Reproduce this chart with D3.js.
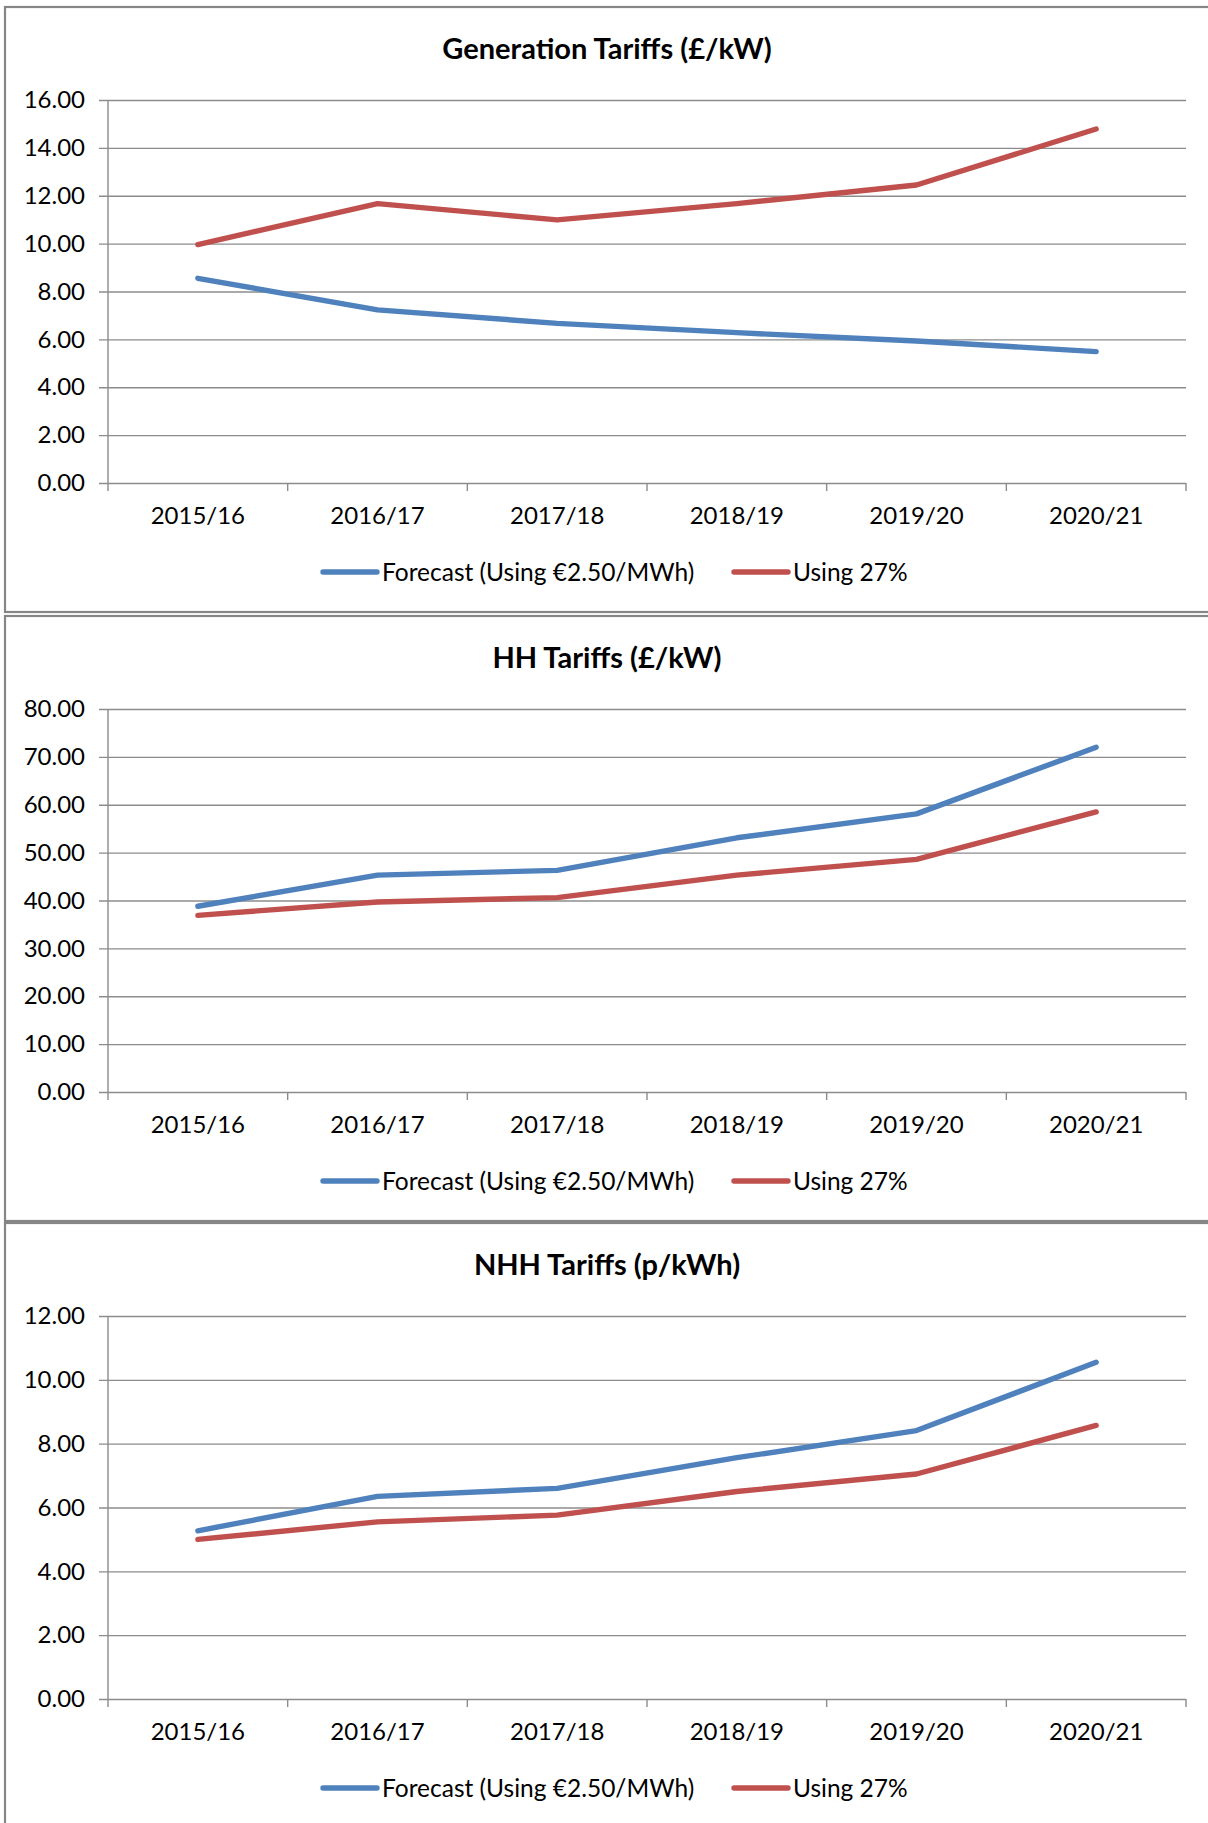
<!DOCTYPE html>
<html>
<head>
<meta charset="utf-8">
<script src="https://cdn.jsdelivr.net/npm/d3@7"></script>
<style>
  body { margin: 0; background: #fff; }
  text { font-family: Lato, "Open Sans", sans-serif; fill: #000; }
</style>
</head>
<body>
<svg id="chart"></svg>
<script>
var years = ["2015/16", "2016/17", "2017/18", "2018/19", "2019/20", "2020/21"];
var seriesNames = ["Forecast (Using \u20ac2.50/MWh)", "Using 27%"];

var genForecast = [8.55, 7.23, 6.67, 6.28, 5.93, 5.49];
var genUsing27  = [9.96, 11.67, 10.99, 11.67, 12.45, 14.79];

var hhForecast = [38.8, 45.3, 46.3, 53.1, 58.1, 72.0];
var hhUsing27  = [36.9, 39.7, 40.6, 45.3, 48.6, 58.5];

var nhhForecast = [5.27, 6.35, 6.6, 7.56, 8.41, 10.55];
var nhhUsing27  = [5.0, 5.55, 5.76, 6.5, 7.05, 8.57];

var titles = ["Generation Tariffs (\u00a3/kW)", "HH Tariffs (\u00a3/kW)", "NHH Tariffs (p/kWh)"];
var yMax = [16, 80, 12];
var yStep = [2, 10, 2];

var panels = [
  [genForecast, genUsing27],
  [hhForecast, hhUsing27],
  [nhhForecast, nhhUsing27]
];
var colors = ["#4f81bd", "#c0504d"];

var width = 1208, height = 1823;
var boxTops = [7, 616, 1223];
var boxH = 605;
var left = 108, right = 1186, plotTop = 93, plotH = 383;

var svg = d3.select("#chart").attr("width", width).attr("height", height);

panels.forEach(function(series, p) {
    var g = svg.append("g").attr("transform", "translate(0," + boxTops[p] + ")");

    // frame
    g.append("rect")
        .attr("x", 5).attr("y", 0)
        .attr("width", 1212).attr("height", boxH)
        .attr("fill", "#fff")
        .attr("stroke", "#868686").attr("stroke-width", 2.2);

    g.append("text")
        .attr("x", 607).attr("y", 52)
        .attr("text-anchor", "middle")
        .style("font-weight", "bold").style("font-size", "29px")
        .text(titles[p]);

    var x = d3.scaleBand().domain(years).range([left, right]);
    var y = d3.scaleLinear().domain([0, yMax[p]]).range([plotTop + plotH, plotTop]);
    var ticks = d3.range(0, yMax[p] + 0.001, yStep[p]);

    // gridlines + y axis
    var yAxis = d3.axisLeft(y).tickValues(ticks).tickFormat(d3.format(".2f"))
        .tickSize(-(right - left)).tickPadding(23);
    var ya = g.append("g").attr("transform", "translate(" + left + ",0)").call(yAxis);
    ya.select(".domain").remove();
    ya.selectAll(".tick line").attr("x1", -9).attr("stroke", "#8c8c8c").attr("stroke-width", 1.4);
    ya.selectAll(".tick text").style("font-size", "24px").attr("fill", "#000");

    g.append("line")
        .attr("x1", left).attr("x2", left)
        .attr("y1", plotTop).attr("y2", plotTop + plotH)
        .attr("stroke", "#8c8c8c").attr("stroke-width", 1.4);

    // x axis
    var xa = g.append("g").attr("transform", "translate(0," + (plotTop + plotH) + ")")
        .call(d3.axisBottom(x).tickSize(0).tickPadding(24));
    xa.select(".domain").remove();
    xa.selectAll(".tick text").style("font-size", "24px").attr("fill", "#000");
    g.selectAll(".xtick").data(d3.range(years.length + 1)).enter().append("line")
        .attr("x1", function(i) { return left + i * x.step(); })
        .attr("x2", function(i) { return left + i * x.step(); })
        .attr("y1", plotTop + plotH).attr("y2", plotTop + plotH + 8)
        .attr("stroke", "#8c8c8c").attr("stroke-width", 1.4);

    var line = d3.line()
        .x(function(d, i) { return x(years[i]) + x.bandwidth() / 2; })
        .y(function(d) { return y(d); });

    series.forEach(function(s, k) {
        g.append("path").datum(s)
            .attr("d", line)
            .attr("fill", "none")
            .attr("stroke", colors[k]).attr("stroke-width", 5.4)
            .attr("stroke-linejoin", "round").attr("stroke-linecap", "round");
    });

    // legend
    var legX = [323, 734];
    var legY = 565;
    seriesNames.forEach(function(name, k) {
        g.append("line")
            .attr("x1", legX[k]).attr("x2", legX[k] + 54)
            .attr("y1", legY).attr("y2", legY)
            .attr("stroke", colors[k]).attr("stroke-width", 5.4)
            .attr("stroke-linecap", "round");
        g.append("text")
            .attr("x", legX[k] + 59).attr("y", legY).attr("dy", "0.35em")
            .style("font-size", "24.5px")
            .text(name);
    });
});
</script>
</body>
</html>
